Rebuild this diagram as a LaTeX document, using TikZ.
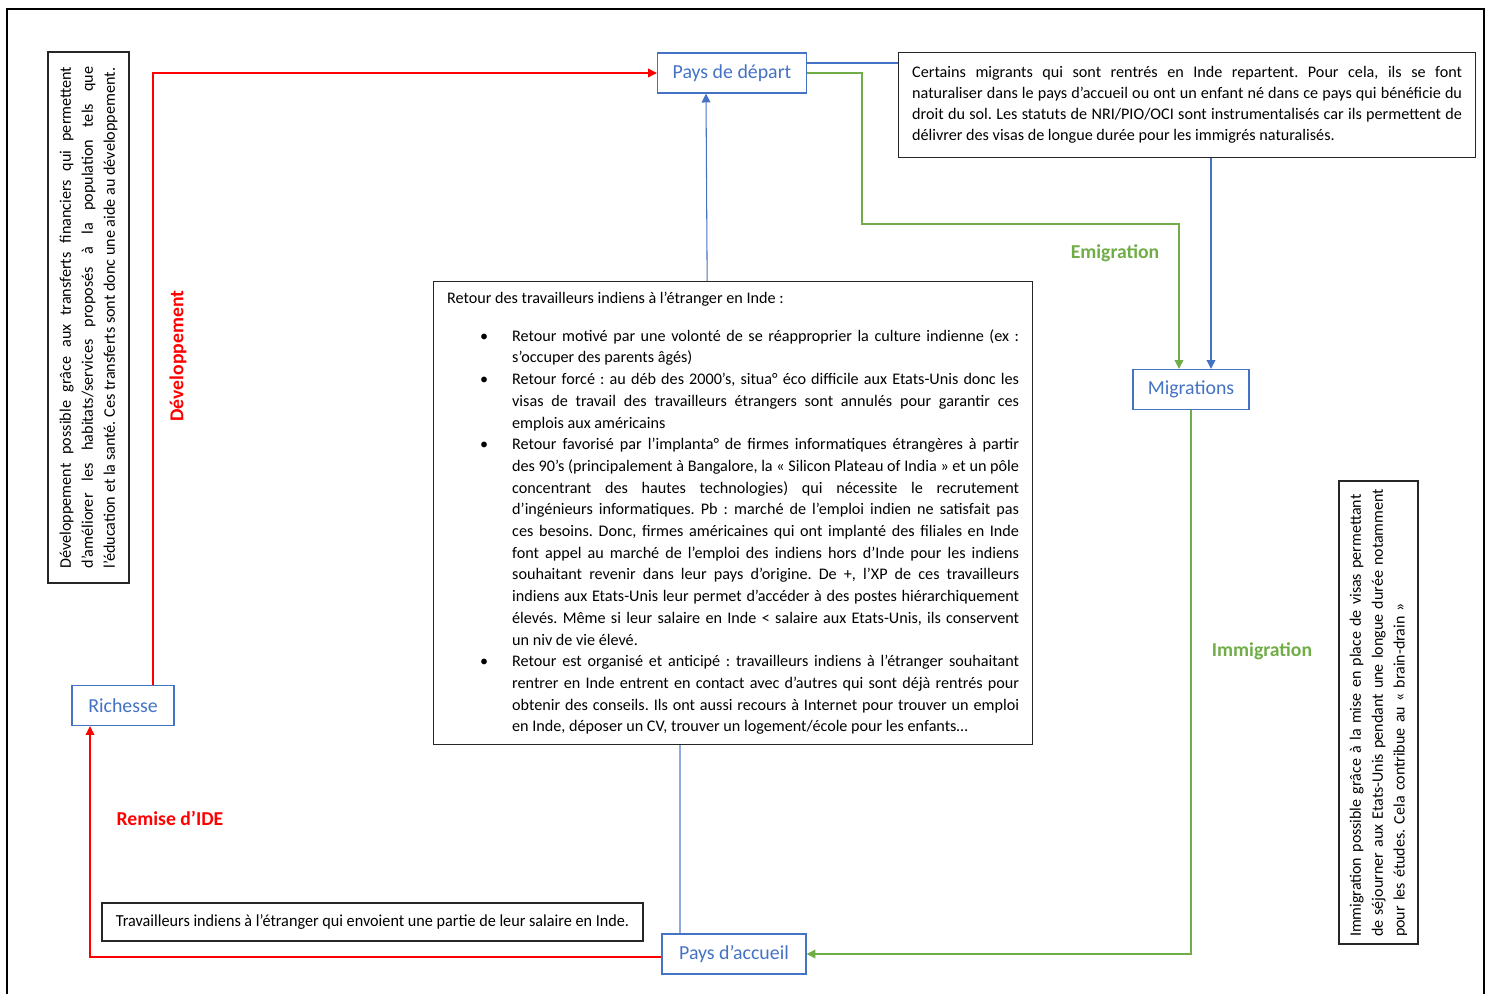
\documentclass[tikz,border=0pt]{standalone}
\usepackage{fontspec}
\setmainfont{Carlito}
\newfontfamily\serrefont[FakeStretch=0.96]{Carlito}
\usepackage{enumitem}
\usepackage{xcolor}
\usepackage{tikz}
\usetikzlibrary{arrows.meta}
\hyphenpenalty=10000
\exhyphenpenalty=10000
\frenchspacing

\definecolor{bleu}{HTML}{4472C4}
\definecolor{bleuclair}{HTML}{8EA9DB}
\definecolor{vert}{HTML}{70AD47}
\definecolor{rouge}{HTML}{FF0000}

\tikzset{
  pays/.style={draw=bleu, line width=0.8pt, text=bleu, font=\fontsize{11.3}{14}\selectfont, minimum height=0.8cm, inner sep=0pt},
  texte/.style={draw=black!85, line width=0.8pt, font=\fontsize{9.2}{12.35}\selectfont, align=justify},
  titre/.style={font=\fontsize{11.2}{13}\selectfont\bfseries},
  fleche/.style={-{Triangle[length=5pt,width=5pt]}},
  lien/.style={line width=0.6pt}
}

\begin{document}
\begin{tikzpicture}[x=0.02cm, y=-0.02cm]
  \useasboundingbox (0,0) rectangle (1491,994);
  \draw[line width=1.1pt] (7,994) -- (7,9) -- (1484,9) -- (1484,994);

  \node[pays, minimum width=2.98cm] (pD) at (732,73) {Pays de départ};
  \node[pays, minimum width=2.32cm] (mig) at (1191,389.5) {Migrations};
  \node[pays, minimum width=2.04cm] (ri) at (123,705.5) {Richesse};
  \node[pays, minimum width=2.88cm] (pA) at (734,954) {Pays d’accueil};

  \node[texte, anchor=north west, text width=11cm, inner xsep=0.27cm, inner ysep=0.28cm, font=\fontsize{9.2}{11.9}\selectfont] (cert) at (898,52)
    {Certains migrants qui sont rentrés en Inde repartent. Pour cela, ils se font\linebreak naturaliser dans le pays d’accueil ou ont un enfant né dans ce pays qui bénéficie du\linebreak droit du sol. Les statuts de NRI/PIO/OCI sont instrumentalisés car ils permettent de\linebreak délivrer des visas de longue durée pour les immigrés naturalisés.};

  \node[texte, anchor=north west, text width=11.44cm, inner xsep=0.27cm, inner ysep=0.2cm] (ret) at (433,281)
    {Retour des travailleurs indiens à l’étranger en Inde :
    \begin{itemize}[leftmargin=1.3cm, labelsep=0.48cm, itemsep=0pt, parsep=0pt, topsep=0.33cm, partopsep=0pt]
      \item Retour motivé par une volonté de se réapproprier la culture indienne (ex~:\linebreak s’occuper des parents âgés)
      \item Retour forcé : au déb des 2000’s, situa° éco difficile aux Etats-Unis donc les\linebreak visas de travail des travailleurs étrangers sont annulés pour garantir ces\linebreak emplois aux américains
      \item Retour favorisé par l’implanta° de firmes informatiques étrangères à partir\linebreak des 90’s (principalement à Bangalore, la «~Silicon Plateau of India~» et un pôle\linebreak concentrant des hautes technologies) qui nécessite le recrutement\linebreak d’ingénieurs informatiques. Pb : marché de l’emploi indien ne satisfait pas\linebreak ces besoins. Donc, firmes américaines qui ont implanté des filiales en Inde\linebreak font appel au marché de l’emploi des indiens hors d’Inde pour les indiens\linebreak souhaitant revenir dans leur pays d’origine. De +, l’XP de ces travailleurs\linebreak indiens aux Etats-Unis leur permet d’accéder à des postes hiérarchiquement\linebreak élevés. Même si leur salaire en Inde < salaire aux Etats-Unis, ils conservent\linebreak un niv de vie élevé.
      \item Retour est organisé et anticipé : travailleurs indiens à l’étranger souhaitant\linebreak rentrer en Inde entrent en contact avec d’autres qui sont déjà rentrés pour\linebreak obtenir des conseils. Ils ont aussi recours à Internet pour trouver un emploi\linebreak en Inde, déposer un CV, trouver un logement/école pour les enfants…
    \end{itemize}};

  \node[texte, rotate=90, text width=10.04cm, inner xsep=0.29cm, minimum height=1.62cm, font=\fontsize{9.2}{12.5}\selectfont] (dvt) at (88.5,317.5)
    {Développement possible grâce aux transferts financiers qui permettent\linebreak d’améliorer les habitats/services proposés à la population tels que\linebreak l’éducation et la santé. Ces transferts sont donc une aide au développement.};

  \node[texte, rotate=90, text width=8.98cm, inner xsep=0.14cm, minimum height=1.58cm, align=left, font=\fontsize{9.1}{12.5}\selectfont] (imt) at (1378.5,712.5)
    {Immigration possible grâce à la mise en place de visas permettant\\ de séjourner aux Etats-Unis pendant une longue durée notamment\\ pour les études. Cela contribue au «~brain-drain~»};

  \node[texte, minimum width=10.82cm, minimum height=0.76cm, font=\serrefont\fontsize{9.6}{12}\selectfont] (trav) at (372.5,922)
    {Travailleurs indiens à l’étranger qui envoient une partie de leur salaire en Inde.};

  \node[titre, text=rouge, rotate=90] (dev) at (178,356) {Développement};
  \node[titre, text=vert] (emi) at (1115,253) {Emigration};
  \node[titre, text=vert] (imm) at (1262,651) {Immigration};
  \node[titre, text=rouge] (rem) at (170,818) {Remise d’IDE};

  \coordinate (cE) at (862,224);

  \draw[lien, rouge, fleche] ([xshift=0.6cm]ri.north) |- (pD.west);
  \draw[lien, rouge, fleche] ([yshift=-0.06cm]pA.west) -| ([xshift=-0.66cm]ri.south);
  \draw[lien, bleu, fleche] ([xshift=-0.52cm]ret.north) -- ([xshift=-0.52cm]pD.south);
  \draw[lien, bleu] ([yshift=0.2cm]pD.east) -- ([yshift=0.2cm]pD.east -| cert.west);
  \draw[lien, vert, fleche] (pD.east) -| (cE) -| ([xshift=-0.24cm]mig.north);
  \draw[lien, bleu, fleche] ([xshift=0.4cm]mig.north |- cert.south) -- ([xshift=0.4cm]mig.north);
  \draw[lien, vert, fleche] (mig.south) |- (pA.east);
  \draw[lien, bleuclair] ([xshift=-1.08cm]pA.north |- ret.south) -- ([xshift=-1.08cm]pA.north);
\end{tikzpicture}
\end{document}
